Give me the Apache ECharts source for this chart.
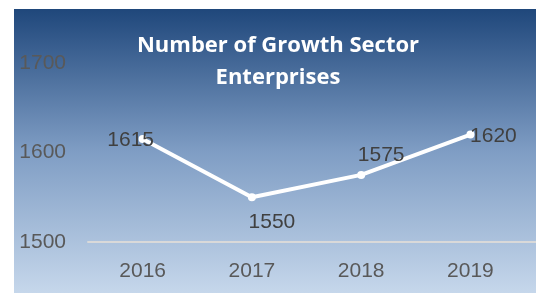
<!DOCTYPE html>
<html>
<head>
<meta charset="utf-8">
<script src="https://cdn.jsdelivr.net/npm/echarts@6/dist/echarts.min.js"></script>
<style>
html,body{margin:0;padding:0;background:#fff;}
#chart{width:536px;height:293px;}
</style>
</head>
<body>
<div id="chart"></div>
<script>
var categories = ['2016', '2017', '2018', '2019'];
var values = [1615, 1550, 1575, 1620];
var yTicks = [1500, 1600, 1700];
var titleText = 'Number of Growth Sector\nEnterprises';

// label placement offsets (style only)
var labelOffsets = [[-12, 1], [20, 25], [20, -20], [23, 2]];

var seriesData = categories.map(function (c, i) {
  return {
    value: [Number(c), values[i]],
    label: { offset: labelOffsets[i] }
  };
});

var chart = echarts.init(document.getElementById('chart'));
chart.setOption({
  animation: false,
  graphic: [{
    type: 'rect',
    left: 14, top: 9, z: -10,
    shape: { width: 522, height: 284 },
    style: {
      fill: new echarts.graphic.LinearGradient(0, 0, 0, 1, [
        { offset: 0, color: '#1f477b' },
        { offset: 0.5, color: '#7f9dc4' },
        { offset: 1, color: '#c6d7eb' }
      ])
    }
  }],
  title: {
    text: titleText,
    left: 273, top: 25, textAlign: 'center',
    textStyle: {
      color: '#ffffff', fontFamily: 'Open Sans', fontWeight: 'bold',
      fontSize: 22, lineHeight: 32
    }
  },
  grid: { left: 88, right: 0, top: 63, bottom: 51, containLabel: false },
  xAxis: {
    type: 'value',
    min: 2015.5, max: 2019.6, interval: 0.5,
    splitLine: { show: false },
    axisTick: { show: false },
    axisLine: { show: true, onZero: false, lineStyle: { color: '#d9d9d9', width: 2 } },
    axisLabel: {
      color: '#595959', fontFamily: 'Liberation Sans', fontSize: 21, margin: 19,
      showMinLabel: false, showMaxLabel: false,
      formatter: function (v) {
        var s = String(Math.round(v));
        return (Math.abs(v - Math.round(v)) < 1e-6 && categories.indexOf(s) >= 0) ? s : '';
      }
    }
  },
  yAxis: {
    type: 'value',
    min: yTicks[0], max: yTicks[yTicks.length - 1], interval: 100,
    splitLine: { show: false },
    axisLine: { show: false },
    axisTick: { show: false },
    axisLabel: {
      color: '#595959', fontFamily: 'Liberation Sans', fontSize: 21, margin: 22,
      formatter: function (v) { return String(v); }
    }
  },
  series: [{
    type: 'line',
    data: seriesData,
    symbol: 'circle',
    symbolSize: 8,
    lineStyle: { color: '#ffffff', width: 4 },
    itemStyle: { color: '#ffffff' },
    label: {
      show: true, position: 'inside',
      align: 'center', verticalAlign: 'middle',
      color: '#404040', fontFamily: 'Liberation Sans', fontSize: 21,
      formatter: function (p) { return p.value[1]; }
    }
  }]
});
</script>
</body>
</html>
